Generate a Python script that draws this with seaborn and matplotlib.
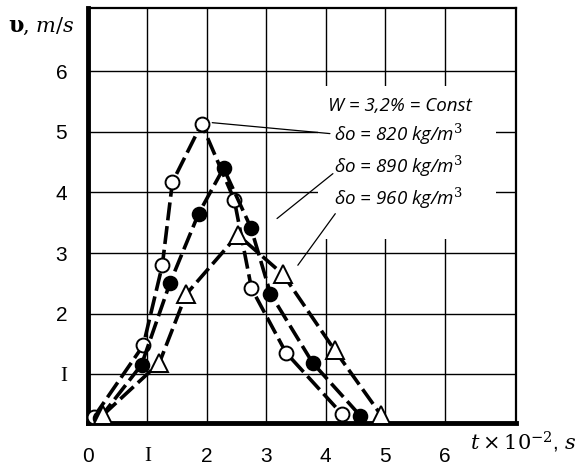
import matplotlib
matplotlib.use("Agg")
import matplotlib.pyplot as plt
from matplotlib.patches import Rectangle
import seaborn as sns
import pandas as pd

# ---- data ----
t_820 = [0.10, 0.93, 1.25, 1.42, 1.91, 2.46, 2.75, 3.33, 4.27]
v_820 = [0.30, 1.48, 2.80, 4.17, 5.13, 3.88, 2.42, 1.36, 0.35]

t_890 = [0.20, 0.90, 1.38, 1.86, 2.28, 2.74, 3.07, 3.78, 4.58]
v_890 = [0.28, 1.16, 2.51, 3.65, 4.40, 3.42, 2.33, 1.19, 0.32]

t_960 = [0.25, 1.20, 1.65, 2.52, 3.28, 4.15, 4.93]
v_960 = [0.33, 1.19, 2.32, 3.30, 2.65, 1.40, 0.33]

x_ticks = [0, 1, 2, 3, 4, 5, 6]
x_ticklabels = ["0", "I", "2", "3", "4", "5", "6"]
y_ticks = [1, 2, 3, 4, 5, 6]
y_ticklabels = ["I", "2", "3", "4", "5", "6"]

note_title = "W = 3,2% = Const"
series_labels = ["δo = 820 kg/m$^3$", "δo = 890 kg/m$^3$", "δo = 960 kg/m$^3$"]

sns.set_style("white")
plt.rcParams["font.family"] = ["Liberation Sans", "DejaVu Sans"]
plt.rcParams["mathtext.fontset"] = "dejavuserif"

fig = plt.figure(figsize=(5.79, 4.70), dpi=100)
ax = fig.add_axes([88 / 579, 47 / 470, 428 / 579, 415 / 470])

df1 = pd.DataFrame({"t": t_820, "v": v_820})
df2 = pd.DataFrame({"t": t_890, "v": v_890})
df3 = pd.DataFrame({"t": t_960, "v": v_960})

common = dict(color="black", linewidth=2.6, zorder=3, sort=False, estimator=None)
sns.lineplot(data=df1, x="t", y="v", ax=ax, marker="o", markersize=10,
             markerfacecolor="white", markeredgecolor="black", markeredgewidth=1.4,
             dashes=False, **common)
sns.lineplot(data=df2, x="t", y="v", ax=ax, marker="o", markersize=10,
             markerfacecolor="black", markeredgecolor="black", markeredgewidth=1.2,
             dashes=False, **common)
sns.lineplot(data=df3, x="t", y="v", ax=ax, marker="^", markersize=13,
             markerfacecolor="white", markeredgecolor="black", markeredgewidth=1.4,
             dashes=False, **common)
for ln in ax.get_lines():
    ln.set_dashes([5, 1.6])

ax.set_xlim(0, 7.2)
ax.set_ylim(0.2, 7.04)
ax.set_xticks(x_ticks)
ax.set_xticklabels(x_ticklabels, fontsize=15)
ax.set_yticks(y_ticks)
ax.set_yticklabels(y_ticklabels, fontsize=15)
for lab in ax.get_xticklabels() + ax.get_yticklabels():
    if lab.get_text() == "I":
        lab.set_fontfamily("Liberation Serif")
ax.set_xlabel("")
ax.set_ylabel("")
ax.tick_params(axis="both", direction="in", length=7, width=2, color="black",
               labelcolor="black")
ax.tick_params(axis="y", pad=15)
ax.tick_params(axis="x", pad=17)

ax.grid(True, color="black", linewidth=1.0)
ax.set_axisbelow(True)
for side in ["left", "bottom"]:
    ax.spines[side].set_linewidth(3.5)
    ax.spines[side].set_color("black")
for side in ["top", "right"]:
    ax.spines[side].set_linewidth(1.6)
    ax.spines[side].set_color("black")

# white panel behind the annotation block
ax.add_patch(Rectangle((3.87, 3.24), 2.99, 2.52, facecolor="white",
                       edgecolor="none", zorder=1.5))

# annotation text
tfont = dict(family=["Open Sans", "DejaVu Sans"], style="italic", fontsize=13.5,
             color="black", va="center", ha="left", zorder=5)
ax.text(4.03, 5.42, note_title, **tfont)
ax.text(4.13, 4.95, series_labels[0], **tfont)
ax.text(4.13, 4.43, series_labels[1], **tfont)
ax.text(4.13, 3.91, series_labels[2], **tfont)

# leader lines
ax.plot([2.09, 4.07], [5.15, 4.97], color="black", lw=0.9, zorder=2)
ax.plot([3.18, 4.12], [3.57, 4.31], color="black", lw=0.9, zorder=2)
ax.plot([3.53, 4.16], [2.80, 3.65], color="black", lw=0.9, zorder=2)

# axis labels
fig.text(8 / 579, 1 - 26 / 470, "υ", fontsize=16, family="DejaVu Serif",
         weight="bold", ha="left", va="center", color="black")
fig.text(22 / 579, 1 - 26 / 470, ", $m/s$", fontsize=15, family="DejaVu Serif",
         ha="left", va="center", color="black")
fig.text(576 / 579, 1 - 442 / 470, r"$t\times 10^{-2}$, $s$", fontsize=15,
         ha="right", va="center", color="black")

fig.savefig("out.png", dpi=100)
